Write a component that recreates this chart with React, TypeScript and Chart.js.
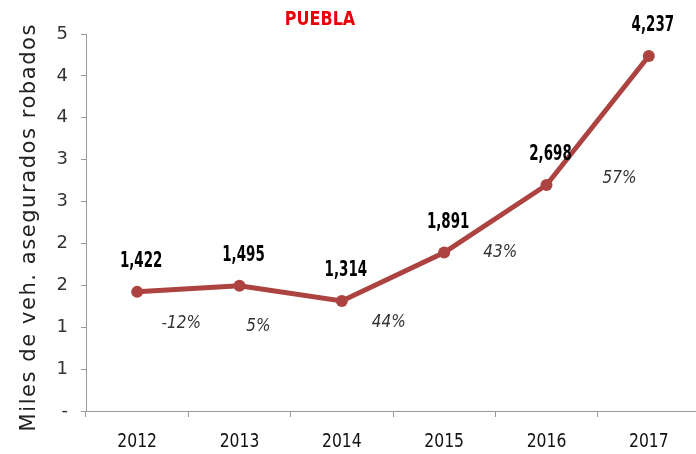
import React, { useEffect, useRef } from "react";
import { Chart, registerables } from "chart.js";

Chart.register(...registerables);

const categories = ["2012", "2013", "2014", "2015", "2016", "2017"];
const values = [1.422, 1.495, 1.314, 1.891, 2.698, 4.237];
const valueLabels = ["1,422", "1,495", "1,314", "1,891", "2,698", "4,237"];
const growthLabels = ["-12%", "5%", "44%", "43%", "57%"];
const yMin = 0;
const yMax = 4.5;
const yStep = 0.5;
const chartTitle = "PUEBLA";
const yAxisTitle = "Miles de veh. asegurados robados";

const COND = "'DejaVu Sans', sans-serif";
const GEO = "'DejaVu Sans', sans-serif";
const LINE_COLOR = "#ac4341";
const valueOffset = { dx: 4, dy: -30 };
const growthOffsets = [
  { dx: 44, dy: 31 },
  { dx: 19, dy: 41 },
  { dx: 47, dy: 21 },
  { dx: 56, dy: 0 },
  { dx: 73, dy: -7 },
];

function condText(ctx: any, text: string, x: number, y: number, font: string, sx: number) {
  ctx.save();
  ctx.font = font;
  ctx.translate(x, y);
  ctx.scale(sx, 1);
  ctx.fillText(text, 0, 0);
  ctx.restore();
}

const labelsPlugin = {
  id: "customLabels",
  afterDraw(chart: any) {
    const ctx = chart.ctx;
    const meta = chart.getDatasetMeta(0);
    ctx.save();
    ctx.textAlign = "center";
    ctx.textBaseline = "middle";
    ctx.fillStyle = "#000";
    meta.data.forEach((pt: any, i: number) => {
      condText(ctx, valueLabels[i], pt.x + valueOffset.dx, pt.y + valueOffset.dy, `bold 21px ${COND}`, 0.64);
    });
    ctx.fillStyle = "#333";
    growthLabels.forEach((t, i) => {
      const pt = meta.data[i];
      const o = growthOffsets[i];
      condText(ctx, t, pt.x + o.dx, pt.y + o.dy, `italic 18px ${COND}`, 0.85);
    });
    ctx.fillStyle = "#e8000b";
    condText(ctx, chartTitle, 320, 20, `bold 20px ${COND}`, 0.8);

    const xs = chart.scales.x;
    ctx.fillStyle = "#111";
    categories.forEach((c, i) => {
      condText(ctx, c, xs.getPixelForValue(i), 442, `20px ${COND}`, 0.78);
    });

    ctx.save();
    ctx.translate(30, 228);
    ctx.rotate(-Math.PI / 2);
    ctx.font = `21px ${GEO}`;
    ctx.fillStyle = "#222";
    const w = ctx.measureText(yAxisTitle).width;
    const sp = Math.max(0, (407 - w) / (yAxisTitle.length - 1));
    (ctx as any).letterSpacing = `${sp.toFixed(2)}px`;
    ctx.fillText(yAxisTitle, sp / 2, 0);
    ctx.restore();
    ctx.restore();
  },
};

export default function App() {
  const ref = useRef<HTMLCanvasElement | null>(null);
  useEffect(() => {
    if (!ref.current) return;
    const chart = new Chart(ref.current, {
      type: "line",
      data: {
        labels: categories,
        datasets: [
          {
            data: values,
            borderColor: LINE_COLOR,
            backgroundColor: LINE_COLOR,
            borderWidth: 5,
            pointRadius: 6,
            pointBackgroundColor: LINE_COLOR,
            pointBorderColor: LINE_COLOR,
            pointBorderWidth: 0,
            tension: 0,
          },
        ],
      },
      options: {
        animation: false,
        responsive: true,
        maintainAspectRatio: false,
        layout: { padding: { top: 34, right: 3, left: 0, bottom: 0 } },
        plugins: { legend: { display: false }, tooltip: { enabled: false }, title: { display: false } },
        scales: {
          x: {
            offset: true,
            grid: { display: true, drawOnChartArea: false, offset: true, tickLength: 6, color: "#999" },
            border: { color: "#999", width: 1 },
            ticks: { display: false },
            afterFit: (s: any) => { s.height = 43; },
          },
          y: {
            min: yMin,
            max: yMax,
            grid: { display: true, drawOnChartArea: false, tickLength: 5, color: "#999" },
            border: { color: "#999", width: 1 },
            ticks: {
              stepSize: yStep,
              color: "#333",
              font: { family: GEO, size: 18 },
              padding: 13,
              callback: (v: any) => (Number(v) === 0 ? "-" : String(Math.round(Number(v)))),
            },
            afterFit: (s: any) => { s.width = 86; },
          },
        },
      },
      plugins: [labelsPlugin],
    });
    return () => chart.destroy();
  }, []);
  return (
    <div style={{ position: "fixed", left: 0, top: 0, width: 696, height: 454, overflow: "hidden", background: "#fff" }}>
      <div style={{ width: 706, height: 454, position: "relative" }}>
        <canvas ref={ref} />
      </div>
    </div>
  );
}
